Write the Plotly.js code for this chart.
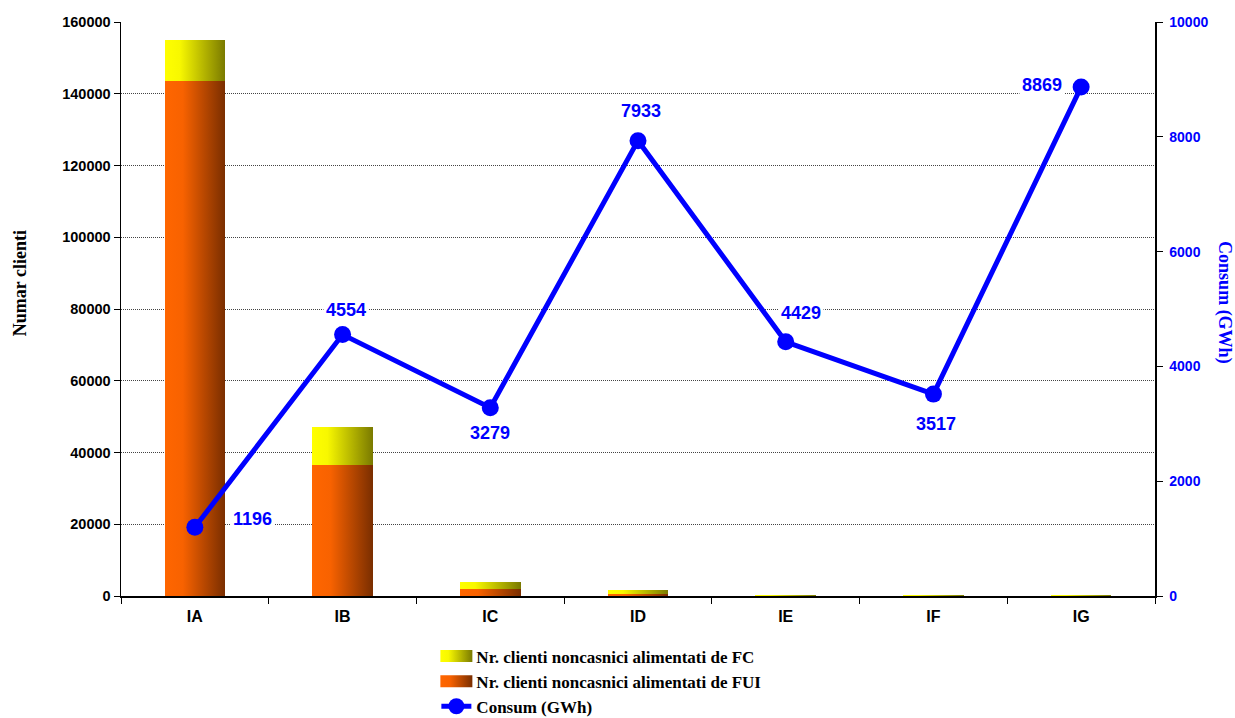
<!DOCTYPE html>
<html>
<head>
<meta charset="utf-8">
<script src="https://cdn.plot.ly/plotly-3.0.1.min.js"></script>
<style>body{margin:0;background:#fff}#chart{width:1235px;height:718px}</style>
</head>
<body>
<div id="chart"></div>
<script>
const categories = ['IA','IB','IC','ID','IE','IF','IG'];
const clientsFUI = [143500, 36500, 1950, 650, 60, 40, 30];
const clientsFC = [11500, 10600, 1950, 1000, 250, 200, 200];
const consum = [1196, 4554, 3279, 7933, 4429, 3517, 8869];
const leftTicks = [0,20000,40000,60000,80000,100000,120000,140000,160000];
const rightTicks = [0,2000,4000,6000,8000,10000];

// label offsets (style only)
const labelShiftX = [58, 3, 0, 3, 15, 3, -39];
const labelShiftY = [8, 25, -25, 30, 29, -30, 2];

const traces = [
  {type:'bar', name:'Nr. clienti noncasnici alimentati de FUI', x:categories, y:clientsFUI,
   marker:{color:'#E05A00', line:{width:0}}, width:0.41, legendrank:2, hoverinfo:'skip'},
  {type:'bar', name:'Nr. clienti noncasnici alimentati de FC', x:categories, y:clientsFC,
   marker:{color:'#D0D000', line:{width:0}}, width:0.41, legendrank:1, hoverinfo:'skip'},
  {type:'scatter', mode:'lines+markers', name:'Consum (GWh)', x:categories, y:consum, yaxis:'y2',
   line:{color:'#0000FF', width:5}, marker:{color:'#0000FF', size:17}, legendrank:3, hoverinfo:'skip'}
];

const annotations = consum.map((v,i)=>({
  x:categories[i], y:v, xref:'x', yref:'y2', text:String(v), showarrow:false,
  xshift:labelShiftX[i], yshift:labelShiftY[i], bgcolor:'#FFFFFF', borderpad:2,
  font:{family:'Liberation Sans, Arial', size:18, color:'#0000FF', weight:'bold'}
}));
annotations.push({
  xref:'paper', yref:'paper', x:1.0677, y:0.512, xanchor:'center', yanchor:'middle',
  text:'Consum (GWh)', textangle:90, showarrow:false,
  font:{family:'Liberation Serif, Times New Roman', size:18, color:'#0000FF', weight:'bold'}
});
annotations.push({
  xref:'paper', yref:'paper', x:-0.0977, y:0.545, xanchor:'center', yanchor:'middle',
  text:'Numar clienti', textangle:-90, showarrow:false,
  font:{family:'Liberation Serif, Times New Roman', size:18, color:'#000', weight:'bold'}
});

const layout = {
  width:1235, height:718,
  margin:{l:121, r:80, t:22, b:122, autoexpand:false},
  paper_bgcolor:'#fff', plot_bgcolor:'#fff',
  barmode:'stack', bargap:0.59,
  showlegend:true,
  legend:{orientation:'v', traceorder:'normal', x:0.305, y:-0.074, xanchor:'left', yanchor:'top',
    font:{family:'Liberation Serif, Times New Roman', size:17, color:'#000', weight:'bold'},
    tracegroupgap:0, bgcolor:'rgba(0,0,0,0)'},
  xaxis:{type:'category', tickson:'boundaries', ticks:'outside', ticklen:6, tickcolor:'#000',
    showline:true, linecolor:'#000', linewidth:1.5, showgrid:false, ticklabelstandoff:5,
    tickfont:{family:'Liberation Sans, Arial', size:16, color:'#000', weight:'bold'}},
  yaxis:{range:[0,160000], tickvals:leftTicks, ticktext:leftTicks.map(String), ticks:'outside', ticklen:6,
    tickcolor:'#000', showline:true, linecolor:'#000', linewidth:1.5,
    showgrid:true, gridcolor:'#444', griddash:'1px,1px', gridwidth:1, zeroline:false,
    tickfont:{family:'Liberation Sans, Arial', size:14.5, color:'#000', weight:'bold'}},
  yaxis2:{overlaying:'y', side:'right', range:[0,10000], tickvals:rightTicks, ticktext:rightTicks.map(String),
    ticks:'outside', ticklen:6, ticklabelstandoff:4,
    tickcolor:'#000', showline:true, linecolor:'#000', linewidth:1.5, showgrid:false, zeroline:false,
    tickfont:{family:'Liberation Sans, Arial', size:14, color:'#0000FF', weight:'bold'}},
  annotations:annotations
};

Plotly.newPlot('chart', traces, layout, {staticPlot:true}).then(gd=>{
  const svg = gd.querySelector('svg.main-svg');
  const ns = 'http://www.w3.org/2000/svg';
  let defs = svg.querySelector('defs');
  if(!defs){defs=document.createElementNS(ns,'defs');svg.insertBefore(defs,svg.firstChild);}
  function grad(id, stops){
    const g=document.createElementNS(ns,'linearGradient');
    g.setAttribute('id',id);g.setAttribute('x1','0');g.setAttribute('x2','1');g.setAttribute('y1','0');g.setAttribute('y2','0');
    stops.forEach(s=>{const st=document.createElementNS(ns,'stop');st.setAttribute('offset',s[0]);st.setAttribute('stop-color',s[1]);g.appendChild(st);});
    defs.appendChild(g);
  }
  grad('gFUI',[[0,'#FF6600'],[0.3,'#F86200'],[1,'#7A2E00']]);
  grad('gFC',[[0,'#FFFF00'],[0.25,'#F8F800'],[1,'#7A7A00']]);
  gd.querySelectorAll('.barlayer .trace.bars').forEach(t=>{
    const d = t.__data__ && t.__data__[0] && t.__data__[0].trace;
    const nm = d ? d.name : '';
    const id = nm.indexOf('FUI')>=0 ? 'gFUI' : 'gFC';
    t.querySelectorAll('path').forEach(p=>{p.style.fill='url(#'+id+')';});
  });
  gd.querySelectorAll('.legend .traces').forEach(t=>{
    const txt=t.querySelector('.legendtext').textContent;
    const p=t.querySelector('.legendpoints path');
    if(!p) return;
    if(txt.indexOf('Consum')>=0) return;
    p.setAttribute('d','M16,6H-16V-6H16Z');
    p.style.fill = txt.indexOf('FUI')>=0 ? 'url(#gFUI)' : 'url(#gFC)';
  });
});
</script>
</body>
</html>
